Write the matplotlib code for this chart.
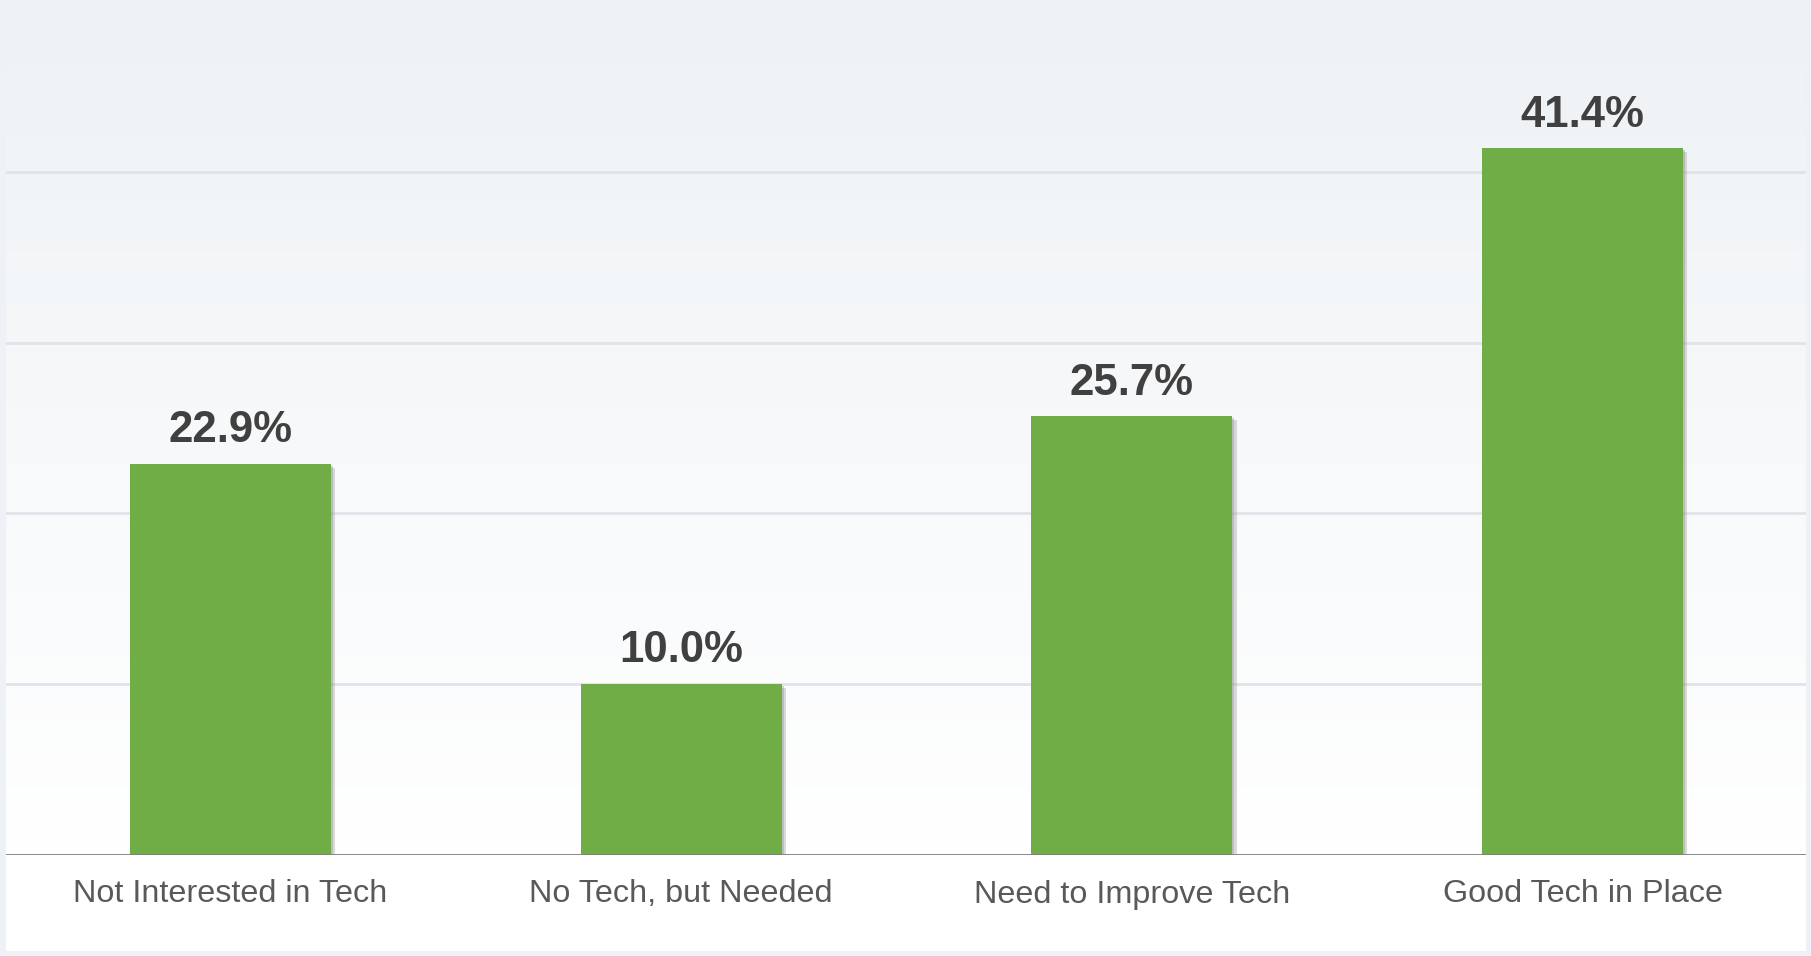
import matplotlib
matplotlib.use("Agg")
import matplotlib.pyplot as plt
import matplotlib.patheffects as pe
import numpy as np
from matplotlib.colors import LinearSegmentedColormap

categories = ["Not Interested in Tech", "No Tech, but Needed", "Need to Improve Tech", "Good Tech in Place"]
values = [22.9, 10.0, 25.7, 41.4]
labels = ["22.9%", "10.0%", "25.7%", "41.4%"]

plt.rcParams['font.family'] = ['Liberation Sans', 'DejaVu Sans']

W, H = 1811, 956
fig = plt.figure(figsize=(W / 100, H / 100), dpi=100, facecolor="white")
left, right, top, bottom = 5, 1808, 1.5, 854.5
ax = fig.add_axes([left / W, 1 - bottom / H, (right - left) / W, (bottom - top) / H])

ax.set_xlim(-0.5, len(categories) - 0.5)
ax.set_ylim(0, 50)

# background gradient
grad = np.linspace(0, 1, 256).reshape(-1, 1)
cmap = LinearSegmentedColormap.from_list("bg", ["#ffffff", "#eef2f5"])
ax.imshow(grad, aspect="auto", cmap=cmap, origin="lower",
          extent=(-0.5, len(categories) - 0.5, 0, 50), zorder=0)

for y in [10, 20, 30, 40, 50]:
    ax.axhline(y, color="#e1e3e8", lw=2, zorder=1)

x = np.arange(len(categories))
bars = ax.bar(x, values, width=0.446, color="#70ad47", zorder=3)
for b in bars:
    b.set_path_effects([pe.SimplePatchShadow(offset=(3, -3), shadow_rgbFace="#999999", alpha=0.35),
                        pe.SimplePatchShadow(offset=(1.5, -1.5), shadow_rgbFace="#888888", alpha=0.35),
                        pe.Normal()])

for xi, v, lab in zip(x, values, labels):
    ax.annotate(lab, (xi, v), xytext=(0, 9), textcoords="offset points",
                ha="center", va="bottom", fontsize=31.5, fontweight="bold", color="#404040", zorder=5)

ax.axhline(0, color="#7f7f7f", lw=2, zorder=4)

ax.set_xticks(x)
ax.set_xticklabels(categories, fontsize=23.3, color="#595959")
ax.tick_params(axis="x", length=0, pad=18)
ax.set_yticks([])
for s in ax.spines.values():
    s.set_visible(False)

# thin light frame around figure edges
fig.patches.append(plt.Rectangle((0, 0), 1, 1, transform=fig.transFigure, fill=False,
                                 edgecolor="#eef2f6", lw=8, zorder=0))

fig.savefig("out.png", dpi=100, facecolor="white")
